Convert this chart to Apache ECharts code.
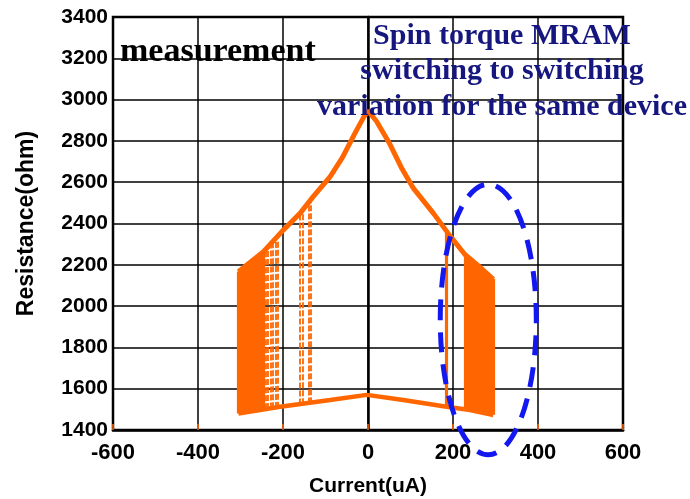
<!DOCTYPE html>
<html>
<head>
<meta charset="utf-8">
<script src="https://cdn.jsdelivr.net/npm/echarts@6/dist/echarts.min.js"></script>
<style>
html, body { margin: 0; padding: 0; background: #ffffff; }
#chart-container { width: 690px; height: 499px; }
</style>
</head>
<body>
<div id="chart-container"></div>
<script>
// upper (high resistance) branch of the R-I loop
const upperCurrent = [-305, -246, -199, -160, -129, -89, -60, -30, -10, 0, 20, 50, 80, 107, 154, 193, 228, 260, 295];
const upperResistance = [2167, 2263, 2369, 2449, 2530, 2627, 2720, 2840, 2915, 2945, 2895, 2790, 2665, 2570, 2449, 2340, 2250, 2195, 2130];

// lower (low resistance) branch
const lowerCurrent = [-305, -207, -89, -3, 83, 185, 240, 295];
const lowerResistance = [1480, 1513, 1545, 1570, 1545, 1513, 1497, 1473];

// switching events, negative current side (dense part)
const negSwitchCurrent = [-305, -299, -293, -287, -281, -275, -269, -263, -257, -251, -246];
const negSwitchTop = [2167, 2177, 2187, 2197, 2206, 2216, 2226, 2236, 2245, 2255, 2263];
const negSwitchBottom = [1480, 1482, 1484, 1486, 1488, 1490, 1492, 1494, 1496, 1498, 1500];

// switching events, negative side (sparse dashed traces)
const negSparseCurrent = [-240, -236, -228, -224, -217, -213, -160, -154, -140, -134];
const negSparseTop = [2272, 2279, 2292, 2299, 2312, 2320, 2449, 2462, 2490, 2503];
const negSparseBottom = [1501, 1502, 1504, 1505, 1507, 1508, 1524, 1525, 1528, 1529];

// switching events, positive current side
const posSwitchCurrent = [183, 228, 234, 240, 246, 252, 258, 264, 270, 276, 282, 288, 294];
const posSwitchTop = [2355, 2250, 2238, 2227, 2216, 2206, 2197, 2188, 2177, 2165, 2154, 2142, 2131];
const posSwitchBottom = [1513, 1500, 1498, 1496, 1493, 1491, 1488, 1486, 1484, 1481, 1479, 1476, 1474];

// dashed ellipse annotation (data units)
const ellipseCenter = [283, 1935];
const ellipseRadius = [113, 655];

const noteLines = ['Spin torque MRAM', 'switching to switching', 'variation for the same device'];

const orange = '#ff6600';
const sans = '"Liberation Sans", Arial, sans-serif';
const serif = '"Liberation Serif", "DejaVu Serif", serif';

const toPairs = (xs, ys) => xs.map((x, i) => [x, ys[i]]);
const toSegments = (xs, tops, bottoms) => xs.map((x, i) => ({ coords: [[x, bottoms[i]], [x, tops[i]]] }));

const chartContainer = document.getElementById('chart-container');
const myChart = echarts.init(chartContainer);

const options = {
    animation: false,
    backgroundColor: '#ffffff',
    grid: {
        left: 113,
        right: 67,
        top: 17,
        bottom: 69,
        outerBoundsMode: 'none',
        show: true,
        borderColor: '#000',
        borderWidth: 2.5
    },
    xAxis: {
        type: 'value',
        min: -600,
        max: 600,
        interval: 200,
        name: 'Current(uA)',
        nameLocation: 'middle',
        nameGap: 46,
        nameTextStyle: { fontFamily: sans, fontWeight: 'bold', fontSize: 21, color: '#000' },
        axisLine: { show: true, lineStyle: { color: '#000', width: 2.5 } },
        axisTick: { show: true, inside: true, length: 6, lineStyle: { color: orange, width: 1.5 } },
        axisLabel: {
            fontFamily: sans, fontWeight: 'bold', fontSize: 22, color: '#000', margin: 12,
            formatter: value => String(value)
        },
        splitLine: { show: true, lineStyle: { color: '#000', width: 1.5 } }
    },
    yAxis: {
        type: 'value',
        min: 1400,
        max: 3400,
        interval: 200,
        name: 'Resistance(ohm)',
        nameLocation: 'middle',
        nameGap: 75,
        nameTextStyle: { fontFamily: sans, fontWeight: 'bold', fontSize: 23, color: '#000' },
        axisLine: { show: true, lineStyle: { color: '#000', width: 2.5 } },
        axisTick: { show: false },
        axisLabel: {
            fontFamily: sans, fontWeight: 'bold', fontSize: 21, color: '#000', margin: 5,
            formatter: value => String(value)
        },
        splitLine: { show: true, lineStyle: { color: '#000', width: 1.5 } }
    },
    series: [
        {
            name: 'neg dense',
            type: 'lines',
            coordinateSystem: 'cartesian2d',
            lineStyle: { color: orange, width: 3.2, opacity: 1 },
            data: toSegments(negSwitchCurrent, negSwitchTop, negSwitchBottom)
        },
        {
            name: 'neg sparse',
            type: 'lines',
            coordinateSystem: 'cartesian2d',
            lineStyle: { color: orange, width: 1.8, opacity: 1, type: [6, 2] },
            data: toSegments(negSparseCurrent, negSparseTop, negSparseBottom)
        },
        {
            name: 'pos switch',
            type: 'lines',
            coordinateSystem: 'cartesian2d',
            lineStyle: { color: orange, width: 3.2, opacity: 1 },
            data: toSegments(posSwitchCurrent, posSwitchTop, posSwitchBottom)
        },
        {
            name: 'upper',
            type: 'line',
            showSymbol: false,
            lineStyle: { color: orange, width: 5 },
            data: toPairs(upperCurrent, upperResistance)
        },
        {
            name: 'lower',
            type: 'line',
            showSymbol: false,
            lineStyle: { color: orange, width: 4.5 },
            data: toPairs(lowerCurrent, lowerResistance)
        }
    ],
    graphic: [
        {
            id: 'measurement',
            type: 'text',
            x: 120,
            y: 52,
            z: 100,
            style: {
                text: 'measurement',
                font: 'bold 34px ' + serif,
                fill: '#000',
                textAlign: 'left',
                textVerticalAlign: 'middle'
            }
        },
        {
            id: 'note',
            type: 'text',
            x: 502,
            y: 18,
            z: 100,
            style: {
                text: noteLines.join('\n'),
                font: 'bold 30px ' + serif,
                lineHeight: 35.5,
                fill: '#16167f',
                textAlign: 'center',
                textVerticalAlign: 'top'
            }
        }
    ]
};

myChart.setOption(options);

// place the dashed ellipse from data coordinates
const c = myChart.convertToPixel({ gridIndex: 0 }, ellipseCenter);
const e = myChart.convertToPixel({ gridIndex: 0 }, [ellipseCenter[0] + ellipseRadius[0], ellipseCenter[1] + ellipseRadius[1]]);
myChart.setOption({
    graphic: [{
        id: 'ellipse',
        type: 'ellipse',
        z: 90,
        shape: { cx: c[0], cy: c[1], rx: Math.abs(e[0] - c[0]), ry: Math.abs(e[1] - c[1]) },
        style: { fill: 'none', stroke: '#1418f0', lineWidth: 5, lineDash: [20, 12] }
    }]
});
</script>
</body>
</html>
